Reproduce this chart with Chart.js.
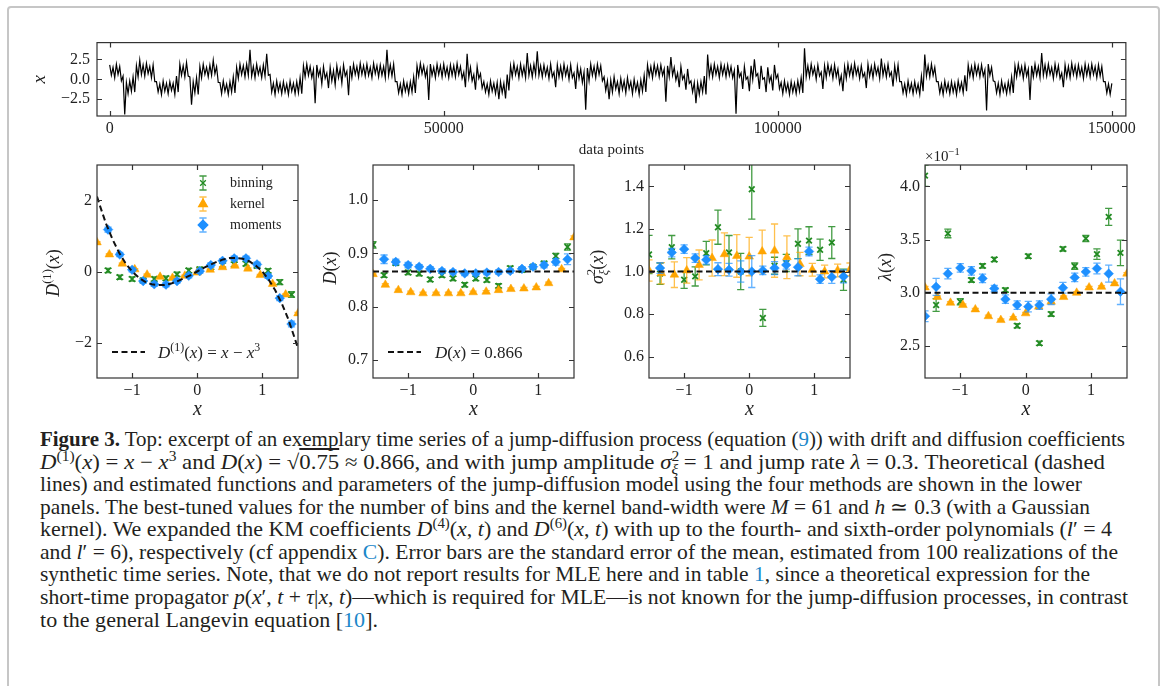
<!DOCTYPE html>
<html>
<head>
<meta charset="utf-8">
<script src="https://cdn.jsdelivr.net/npm/chart.js@4.4.1/dist/chart.umd.min.js"></script>
<style>
  body { margin: 0; width: 1165px; height: 686px; overflow: hidden; position: relative; background: #fff; font-family: "Liberation Serif", "Times New Roman", Times, serif; }
  #frame { position: absolute; left: 7px; top: 6px; width: 1153px; height: 720px; border: 2px solid #c6c6c6; border-radius: 4px; box-sizing: border-box; }
  canvas { position: absolute; }
  .cap { position: absolute; left: 40px; white-space: nowrap; font-size: 21px; line-height: 21px; color: #231f20; transform-origin: 0 0; }
  .cap a { color: #1b87c9; text-decoration: none; }
  .cap sup { font-size: 0.68em; vertical-align: baseline; position: relative; top: -0.55em; line-height: 0; }
  .cap sub { font-size: 0.68em; vertical-align: baseline; position: relative; top: 0.35em; line-height: 0; margin-left: -0.5em; }
</style>
</head>
<body>
<div id="frame"></div>

<div class="cap" style="top:429px"><b>Figure 3.</b> Top: excerpt of an exemplary time series of a jump-diffusion process (equation (<a>9</a>)) with drift and diffusion coefficients</div>
<div class="cap" style="top:452px"><i>D</i><sup>(1)</sup>(<i>x</i>) = <i>x</i> − <i>x</i><sup>3</sup> and <i>D</i>(<i>x</i>) = √<span style="text-decoration:overline">0.75</span> ≈ 0.866, and with jump amplitude <i>σ</i><sup>2</sup><sub><i>ξ</i></sub> = 1 and jump rate <i>λ</i> = 0.3. Theoretical (dashed</div>
<div class="cap" style="top:474px">lines) and estimated functions and parameters of the jump-diffusion model using the four methods are shown in the lower</div>
<div class="cap" style="top:497px">panels. The best-tuned values for the number of bins and the kernel band-width were <i>M</i> = 61 and <i>h</i> ≃ 0.3 (with a Gaussian</div>
<div class="cap" style="top:519px">kernel). We expanded the KM coefficients <i>D</i><sup>(4)</sup>(<i>x</i>, <i>t</i>) and <i>D</i><sup>(6)</sup>(<i>x</i>, <i>t</i>) with up to the fourth- and sixth-order polynomials (<i>l</i>′ = 4</div>
<div class="cap" style="top:542px">and <i>l</i>′ = 6), respectively (cf appendix <a>C</a>). Error bars are the standard error of the mean, estimated from 100 realizations of the</div>
<div class="cap" style="top:564px">synthetic time series. Note, that we do not report results for MLE here and in table <a>1</a>, since a theoretical expression for the</div>
<div class="cap" style="top:587px">short-time propagator <i>p</i>(<i>x</i>′, <i>t</i> + <i>τ</i>|<i>x</i>, <i>t</i>)—which is required for MLE—is not known for the jump-diffusion processes, in contrast</div>
<div class="cap" style="top:610px">to the general Langevin equation [<a>10</a>].</div>

<script>
// =============== DATA ===============

// top panel: the time series is far denser than the screen, so it is kept as
// the upper and lower edge of its trace in each block of 500 data points
const seriesLength = 150000;
const seriesUpper = [
  1.8, 1.5, 1.9, 1.6, 0.4, -0.4, -0.2, 0.3, 1.7, 2.4,
  1.8, 2.0, 1.6, 1.8, -0.3, -0.6, -0.2, -0.5, -0.3, -0.5,
  0.4, 1.9, 1.7, 2.1, 0.3, -0.3, 0.2, 1.6, 1.9, 1.5,
  1.8, 2.4, 1.6, -0.4, -0.2, -0.6, -0.3, 0.3, 1.5, 1.9,
  1.7, 1.9, 3.7, 1.6, 1.9, 1.5, 1.8, 3.2, 0.6, -0.5,
  -0.2, -0.5, -0.3, -0.6, -0.2, -0.5, -0.3, 0.2, 1.7, 1.9,
  1.6, 1.2, 1.8, 1.2, 1.6, 0.8, 1.5, 1.1, 1.7, 1.3,
  1.8, 1.0, 1.7, 1.9, 1.6, 2.0, 1.7, 1.9, 1.5, 2.0,
  1.7, 1.8, 1.6, 3.7, 1.8, 1.9, -0.3, -0.6, -0.2, -0.5,
  -0.3, 0.3, 1.7, 2.0, 1.7, 1.3, 1.9, 1.5, 1.9, 1.7,
  1.9, 1.5, 1.8, 1.7, 2.0, 1.6, 0.9, 3.2, 1.5, 0.6,
  1.6, 0.7, -0.3, -0.6, -0.2, -0.5, -0.4, -0.3, -0.5, 0.6,
  1.7, 2.0, 1.6, 1.9, 1.6, 3.3, 1.7, 1.9, 3.5, 1.7,
  1.8, 1.5, 1.9, 0.9, 1.8, 1.6, 1.9, 1.5, 1.8, 0.8,
  1.6, 1.3, 0.9, 1.4, 1.9, 1.6, 1.9, 1.7, 0.3, -0.2,
  -0.1, 0.3, -0.3, 0.1, -0.2, 0.2, -0.3, 0.0, -0.4, -0.1,
  0.5, 1.8, 1.6, 1.9, 1.7, 1.8, 1.3, 1.7, 2.8, 1.5,
  0.8, 1.6, 0.5, 1.3, -0.2, -0.4, -0.5, -0.3, 0.4, 3.1,
  1.7, 1.9, 1.6, 1.9, 1.7, 1.8, 1.6, 1.1, 1.8, 0.8,
  1.6, 0.3, 1.7, 2.5, 0.7, 1.7, 0.2, 1.5, 0.4, 1.8,
  0.6, -0.4, -0.2, -0.5, -0.3, -0.5, -0.2, 0.2, 3.9, 1.7,
  1.9, 1.5, 1.8, 0.9, 1.7, 1.9, 1.6, 1.8, 1.3, 0.5,
  1.6, 1.9, 1.7, 2.0, 1.5, 1.7, 0.8, 1.9, 1.6, 1.9,
  1.5, 2.6, 1.7, 1.9, 0.9, 1.7, 1.8, -0.3, -0.6, -0.2,
  -0.5, -0.3, -0.6, 0.4, 3.1, 1.7, 1.9, 1.5, -0.3, -0.6,
  -0.2, -0.5, -0.3, -0.5, -0.2, -0.4, 0.5, 1.8, 1.6, 1.9,
  1.7, 1.8, 1.2, 1.9, 1.5, -0.3, -0.5, -0.2, -0.6, -0.3,
  0.3, 1.7, 1.9, 1.6, 1.8, 1.3, 1.7, 1.9, 1.6, 3.3,
  1.8, 1.9, 1.5, 1.9, 1.7, 0.8, 1.8, 1.6, 2.0, 1.7,
  1.8, 1.5, 1.9, 1.7, 1.9, 1.6, 1.8, 1.6, -0.3, -0.6,
  -0.5,
];
const seriesLower = [
  0.5, 0.2, 0.6, -0.2, -4.4, -1.8, -1.5, -1.6, 0.3, 0.6,
  0.4, 0.7, 0.2, -0.3, -1.6, -1.9, -1.5, -1.8, -1.4, -1.9,
  -1.6, 0.5, 0.3, 0.4, -3.2, -1.7, -1.9, 0.2, 0.6, 0.3,
  0.5, 0.7, -0.4, -1.8, -1.5, -1.9, -1.6, -1.7, 0.1, 0.6,
  0.3, 0.5, 0.4, 0.2, 0.6, 0.2, 0.4, 0.5, -1.6, -1.9,
  -1.5, -1.8, -1.6, -1.9, -1.5, -1.8, -1.7, -1.8, 0.3, 0.5,
  0.2, -3.0, 0.4, -0.6, 0.1, -1.1, -0.2, -0.7, 0.2, -0.5,
  0.4, -2.0, 0.2, 0.6, 0.3, 0.6, 0.4, 0.5, 0.2, 0.7,
  0.3, 0.5, 0.2, 0.5, 0.4, -0.3, -1.7, -1.9, -1.5, -1.8,
  -1.6, -1.7, 0.4, 0.7, 0.3, -2.6, 0.5, 0.2, 0.6, 0.3,
  0.5, 0.2, 0.5, 0.3, 0.6, 0.1, -1.0, 0.2, -0.2, -1.3,
  0.1, -1.1, -1.6, -1.9, -1.5, -1.8, -2.5, -1.7, -2.4, -1.4,
  0.3, 0.6, 0.2, 0.5, 0.2, 0.5, 0.3, 0.6, 0.5, 0.3,
  0.5, 0.1, 0.3, -1.0, 0.3, 0.2, 0.5, 0.0, 0.2, -1.2,
  0.1, -0.4, -3.8, -0.2, 0.5, 0.2, 0.6, -0.2, -1.4, -2.5,
  -1.6, -1.2, -1.8, -1.3, -1.7, -1.2, -1.8, -1.4, -1.9, -1.5,
  -1.6, 0.4, 0.2, 0.6, 0.3, 0.5, -2.8, 0.3, 0.5, -0.1,
  -1.0, 0.0, -1.3, -0.5, -1.6, -3.0, -1.9, -1.6, -1.9, 0.4,
  0.3, 0.6, 0.2, 0.6, 0.3, 0.5, 0.2, -4.3, 0.3, -1.2,
  0.0, -1.5, 0.0, 0.4, -1.2, 0.0, -1.6, -0.3, -1.4, 0.1,
  -1.2, -1.8, -1.5, -1.9, -1.6, -1.8, -1.5, -1.7, 0.3, 0.3,
  0.6, 0.0, 0.4, -1.2, 0.2, 0.6, 0.1, 0.3, -0.5, -1.5,
  0.1, 0.5, 0.3, 0.6, 0.1, 0.3, -1.1, 0.4, 0.2, 0.6,
  0.1, 0.5, 0.3, 0.4, -0.9, 0.1, -0.3, -1.7, -1.9, -1.5,
  -1.8, -1.6, -1.9, -1.5, 0.4, 0.3, 0.5, -0.3, -1.7, -1.9,
  -1.5, -1.8, -1.6, -1.9, -1.4, -1.7, -1.5, 0.4, 0.2, 0.6,
  0.3, 0.4, -3.9, 0.5, -0.2, -1.7, -1.9, -1.5, -1.8, -1.6,
  -1.7, 0.3, 0.6, 0.1, 0.4, -2.6, 0.3, 0.5, 0.2, 0.5,
  0.4, 0.6, 0.1, 0.5, 0.1, -1.0, 0.3, 0.2, 0.6, 0.3,
  0.5, 0.1, 0.5, 0.3, 0.6, 0.2, 0.4, -0.3, -1.7, -1.9,
  -1.3,
];
const seriesXTicks = [0, 50000, 100000, 150000];
const seriesXLabels = ["0", "50000", "100000", "150000"];
const seriesYTicks = [-2.5, 0, 2.5];
const seriesYLabels = ["−2.5", "0.0", "2.5"];

// x positions of the estimates (binning / moments share the bin centres)
const xBins = [-1.54, -1.37, -1.19, -1.0, -0.83, -0.66, -0.48, -0.31, -0.13, 0.04, 0.21, 0.39, 0.57, 0.75, 0.92, 1.09, 1.27, 1.45];
const xKernel = [-1.54, -1.35, -1.15, -0.96, -0.77, -0.57, -0.38, -0.19, 0.0, 0.2, 0.39, 0.58, 0.78, 0.97, 1.16, 1.36, 1.55];
const xTicksLower = [-1, 0, 1];
const xLabelsLower = ["−1", "0", "1"];

// drift D1(x)
const driftBinning = [null, 0.03, -0.16, -0.21, -0.25, -0.21, -0.19, -0.08, 0.03, 0.06, 0.12, 0.18, 0.2, 0.22, 0.16, 0.02, -0.3, -0.65];
const driftBinningErr = [null, 0.06, 0.06, 0.06, 0.06, 0.06, 0.06, 0.06, 0.06, 0.06, 0.06, 0.06, 0.06, 0.06, 0.06, 0.06, 0.07, 0.08];
const driftKernel = [0.82, 0.48, 0.22, 0.06, -0.09, -0.15, -0.18, -0.12, -0.03, 0.05, 0.12, 0.16, 0.08, -0.1, -0.35, -0.65, -1.18];
const driftKernelErr = [0.02, 0.02, 0.02, 0.02, 0.02, 0.02, 0.02, 0.02, 0.02, 0.02, 0.02, 0.02, 0.02, 0.02, 0.02, 0.02, 0.03];
const driftMoments = [null, 1.18, 0.48, 0.05, -0.27, -0.36, -0.37, -0.27, -0.12, 0.01, 0.18, 0.3, 0.37, 0.37, 0.2, -0.13, -0.75, -1.48];
const driftMomentsErr = [null, 0.07, 0.06, 0.06, 0.06, 0.06, 0.06, 0.06, 0.06, 0.06, 0.06, 0.06, 0.06, 0.06, 0.06, 0.06, 0.07, 0.08];
const driftTheoryX = [-1.54, -1.5, -1.4, -1.3, -1.2, -1.1, -1.0, -0.9, -0.8, -0.7, -0.6, -0.5, -0.4, -0.3, -0.2, -0.1, 0.0,
  0.1, 0.2, 0.3, 0.4, 0.5, 0.6, 0.7, 0.8, 0.9, 1.0, 1.1, 1.2, 1.3, 1.4, 1.5, 1.55];
const driftTheory = [2.11, 1.88, 1.34, 0.9, 0.53, 0.23, 0.0, -0.17, -0.29, -0.36, -0.38, -0.38, -0.34, -0.27, -0.19, -0.1, 0.0,
  0.1, 0.19, 0.27, 0.34, 0.38, 0.38, 0.36, 0.29, 0.17, 0.0, -0.23, -0.53, -0.9, -1.34, -1.88, -2.17];

// diffusion D(x)
const diffBinning = [0.916, 0.859, 0.882, 0.864, 0.862, 0.851, 0.859, 0.853, 0.841, 0.853, 0.85, 0.839, 0.872, 0.869, 0.875, 0.881, 0.895, 0.912];
const diffBinningErr = [0.006, 0.004, 0.004, 0.004, 0.004, 0.004, 0.004, 0.004, 0.004, 0.004, 0.004, 0.004, 0.004, 0.004, 0.004, 0.004, 0.005, 0.006];
const diffKernel = [0.861, 0.841, 0.831, 0.827, 0.825, 0.825, 0.825, 0.825, 0.827, 0.828, 0.831, 0.833, 0.834, 0.836, 0.844, 0.87, 0.93];
const diffKernelErr = [0.002, 0.002, 0.002, 0.002, 0.002, 0.002, 0.002, 0.002, 0.002, 0.002, 0.002, 0.002, 0.002, 0.002, 0.002, 0.002, 0.003];
const diffMoments = [null, 0.889, 0.884, 0.878, 0.875, 0.871, 0.867, 0.865, 0.8625, 0.8625, 0.864, 0.865, 0.867, 0.871, 0.875, 0.878, 0.884, 0.889];
const diffMomentsErr = [null, 0.008, 0.005, 0.005, 0.004, 0.004, 0.004, 0.004, 0.004, 0.004, 0.004, 0.004, 0.004, 0.004, 0.004, 0.005, 0.006, 0.01];
const diffTheory = 0.866;

// jump amplitude sigma_xi^2(x)
const ampBinning = [1.08, 0.99, 1.114, 0.961, 0.977, 1.086, 1.208, 1.089, 1.0, 1.386, 0.782, 1.027, 1.04, 1.13, 1.145, 1.102, 1.136, 0.961];
const ampBinningErr = [0.09, 0.05, 0.055, 0.04, 0.045, 0.055, 0.08, 0.08, 0.085, 0.14, 0.04, 0.04, 0.04, 0.07, 0.065, 0.05, 0.075, 0.05];
const ampKernel = [1.005, 0.992, 0.985, 1.005, 1.031, 1.063, 1.081, 1.073, 1.07, 1.094, 1.098, 1.067, 1.035, 1.008, 1.0, 1.005, 1.01];
const ampKernelErr = [0.05, 0.05, 0.06, 0.06, 0.07, 0.085, 0.1, 0.1, 0.09, 0.1, 0.125, 0.1, 0.055, 0.03, 0.03, 0.03, 0.03];
const ampMoments = [null, 1.016, 1.089, 1.105, 1.063, 1.055, 1.011, 1.008, 1.0, 1.0, 1.005, 1.016, 1.031, 1.02, 1.094, 0.964, 0.974, 0.977];
const ampMomentsErr = [null, 0.025, 0.02, 0.02, 0.02, 0.02, 0.03, 0.03, 0.05, 0.075, 0.02, 0.03, 0.02, 0.04, 0.02, 0.02, 0.03, 0.03];
const ampTheory = 1.0;

// jump rate lambda(x), in units of 1e-1
const rateBinning = [4.1, 2.885, 3.557, 2.916, 3.119, 3.253, 3.313, 3.025, 2.69, 3.344, 2.526, 2.8, 3.412, 3.25, 3.51, 3.363, 3.713, 3.375];
const rateBinningErr = [0.1, 0.06, 0.04, 0.03, 0.02, 0.02, 0.02, 0.02, 0.02, 0.02, 0.02, 0.02, 0.02, 0.03, 0.03, 0.05, 0.08, 0.12];
const rateKernel = [3.05, 2.96, 2.906, 2.885, 2.844, 2.78, 2.744, 2.766, 2.807, 2.87, 2.916, 2.96, 3.0, 3.05, 3.056, 3.088, 3.18];
const rateKernelErr = [0.01, 0.01, 0.01, 0.01, 0.01, 0.01, 0.01, 0.01, 0.01, 0.01, 0.01, 0.01, 0.01, 0.01, 0.01, 0.01, 0.01];
const rateMoments = [2.78, 3.056, 3.18, 3.234, 3.206, 3.135, 3.04, 2.94, 2.885, 2.87, 2.885, 2.94, 3.047, 3.144, 3.197, 3.228, 3.18, 3.01];
const rateMomentsErr = [0.05, 0.08, 0.05, 0.04, 0.04, 0.04, 0.03, 0.04, 0.04, 0.05, 0.04, 0.05, 0.05, 0.04, 0.04, 0.05, 0.08, 0.12];
const rateTheory = 3.0;


// =============== STYLE ===============

const FONT = "'Liberation Serif', 'Times New Roman', Times, serif";
const INK = "#222";
const GREEN = "#228B22";
const ORANGE = "#FFA500";
const BLUE = "#1E90FF";


// =============== HELPERS ===============

function runFont(r, size) {
  const sz = r.s ? size * 0.7 : size;
  return (r.i ? "italic " : "") + sz + "px " + FONT;
}

function runsWidth(ctx, runs, size) {
  let w = 0;
  runs.forEach((r) => {
    ctx.font = runFont(r, size);
    if (!r.k) w += ctx.measureText(r.t).width;
  });
  return w;
}

// draw a line of mixed italic / roman / super- and subscript text
function drawRuns(ctx, runs, x, y, size, align) {
  let cx = align === "center" ? x - runsWidth(ctx, runs, size) / 2 : x;
  ctx.textAlign = "left";
  ctx.textBaseline = "alphabetic";
  runs.forEach((r) => {
    ctx.font = runFont(r, size);
    const dy = r.s === 1 ? -size * 0.42 : r.s === -1 ? size * 0.28 : 0;
    ctx.fillText(r.t, cx, y + dy);
    if (!r.k) cx += ctx.measureText(r.t).width;
  });
}

function drawYLabel(ctx, runs, x, y, size) {
  ctx.save();
  ctx.translate(x, y);
  ctx.rotate(-Math.PI / 2);
  drawRuns(ctx, runs, 0, size * 0.33, size, "center");
  ctx.restore();
}

function points(xs, ys, errs) {
  const out = [];
  xs.forEach((x, i) => {
    if (ys[i] == null) return;
    out.push({ x, y: ys[i], e: errs ? errs[i] : null });
  });
  return out;
}

// the trace: top of each block, then bottom of the same block
function tracePoints() {
  const block = seriesLength / (seriesUpper.length - 1);
  const out = [];
  seriesUpper.forEach((u, i) => {
    out.push({ x: i * block, y: u });
    if (i < seriesUpper.length - 1) out.push({ x: (i + 0.5) * block, y: seriesLower[i] });
  });
  return out;
}

// error bars (drawn under each dataset), box and inward ticks
const framePlugin = {
  id: "frameBox",
  beforeDatasetDraw(chart, args) {
    const ds = chart.data.datasets[args.index];
    if (!ds.errColor) return;
    const ctx = chart.ctx;
    const a = chart.chartArea;
    const ys = chart.scales.y;
    ctx.save();
    ctx.beginPath();
    ctx.rect(a.left, a.top, a.right - a.left, a.bottom - a.top);
    ctx.clip();
    ctx.strokeStyle = ds.errColor;
    ctx.lineWidth = 1.3;
    args.meta.data.forEach((pt, i) => {
      const d = ds.data[i];
      if (d.e == null) return;
      const y1 = ys.getPixelForValue(d.y + d.e);
      const y2 = ys.getPixelForValue(d.y - d.e);
      const cap = 3.6;
      ctx.beginPath();
      ctx.moveTo(pt.x, y1);
      ctx.lineTo(pt.x, y2);
      ctx.moveTo(pt.x - cap, y1);
      ctx.lineTo(pt.x + cap, y1);
      ctx.moveTo(pt.x - cap, y2);
      ctx.lineTo(pt.x + cap, y2);
      ctx.stroke();
    });
    ctx.restore();
  },
  afterDraw(chart) {
    const ctx = chart.ctx;
    const a = chart.chartArea;
    const xs = chart.scales.x;
    const ys = chart.scales.y;
    const tl = 5;
    ctx.save();
    ctx.strokeStyle = "#333";
    ctx.lineWidth = 1.2;
    ctx.beginPath();
    xs.ticks.forEach((t) => {
      const px = Math.round(xs.getPixelForValue(t.value)) + 0.5;
      ctx.moveTo(px, a.bottom);
      ctx.lineTo(px, a.bottom - tl);
      ctx.moveTo(px, a.top);
      ctx.lineTo(px, a.top + tl);
    });
    ys.ticks.forEach((t) => {
      const py = Math.round(ys.getPixelForValue(t.value)) + 0.5;
      ctx.moveTo(a.left, py);
      ctx.lineTo(a.left + tl, py);
      ctx.moveTo(a.right, py);
      ctx.lineTo(a.right - tl, py);
    });
    ctx.stroke();
    ctx.strokeRect(a.left, a.top, a.right - a.left, a.bottom - a.top);
    ctx.fillStyle = INK;
    ctx.strokeStyle = INK;
    if (chart.canvas._decorate) chart.canvas._decorate(ctx, a);
    ctx.restore();
  },
};

function makePanel(box, m, cfg) {
  const cv = document.createElement("canvas");
  cv.width = box.r - box.l + m.l + m.r;
  cv.height = box.b - box.t + m.t + m.b;
  cv.style.left = box.l - m.l + "px";
  cv.style.top = box.t - m.t + "px";
  cv._decorate = cfg.decorate;
  document.body.appendChild(cv);

  const tickFont = { family: FONT, size: 16 };
  return new Chart(cv, {
    type: "scatter",
    data: { datasets: cfg.datasets },
    options: {
      responsive: false,
      animation: false,
      devicePixelRatio: 1,
      layout: { padding: { left: 0, top: m.t, right: m.r, bottom: 0 } },
      plugins: { legend: { display: false }, tooltip: { enabled: false } },
      scales: {
        x: {
          type: "linear",
          min: cfg.xmin,
          max: cfg.xmax,
          afterFit: (s) => { s.height = m.b; },
          afterBuildTicks: (s) => { s.ticks = cfg.xTicks.map((v) => ({ value: v })); },
          grid: { display: false, drawTicks: false },
          border: { display: false },
          ticks: { padding: cfg.xPad, autoSkip: false, maxRotation: 0, color: INK, font: tickFont,
            callback: (v, i) => cfg.xLabels[i] },
        },
        y: {
          type: "linear",
          min: cfg.ymin,
          max: cfg.ymax,
          afterFit: (s) => { s.width = m.l; },
          afterBuildTicks: (s) => { s.ticks = cfg.yTicks.map((v) => ({ value: v })); },
          grid: { display: false, drawTicks: false },
          border: { display: false },
          ticks: { padding: cfg.yPad, autoSkip: false, color: INK, font: tickFont,
            callback: (v, i) => cfg.yLabels[i] },
        },
      },
    },
    plugins: [framePlugin],
  });
}

function binningSet(ys, errs) {
  return {
    data: points(xBins, ys, errs), order: 3, clip: 0,
    pointStyle: "crossRot", pointRadius: 4, borderWidth: 1.8,
    borderColor: GREEN, backgroundColor: GREEN, errColor: "rgba(34,139,34,0.85)",
  };
}

function kernelSet(ys, errs) {
  return {
    data: points(xKernel, ys, errs), order: 2, clip: 0,
    pointStyle: "triangle", pointRadius: 5, borderWidth: 0.5,
    borderColor: ORANGE, backgroundColor: ORANGE, errColor: "rgba(255,165,0,0.7)",
  };
}

function momentsSet(ys, errs) {
  return {
    data: points(xBins, ys, errs), order: 1, clip: 0,
    pointStyle: "rectRot", pointRadius: 4.8, borderWidth: 0.5,
    borderColor: BLUE, backgroundColor: BLUE, errColor: "rgba(30,144,255,0.7)",
  };
}

function theorySet(xs, ys) {
  return {
    data: points(xs, ys), order: 0, clip: 0, showLine: true,
    pointRadius: 0, borderColor: "#111", borderWidth: 2, borderDash: [6, 3.5],
  };
}

function levelSet(v) {
  return theorySet([-1.54, 1.55], [v, v]);
}

function dashedSample(ctx, x1, x2, y) {
  ctx.save();
  ctx.strokeStyle = "#111";
  ctx.lineWidth = 2;
  ctx.setLineDash([6, 3.5]);
  ctx.beginPath();
  ctx.moveTo(x1, y);
  ctx.lineTo(x2, y);
  ctx.stroke();
  ctx.restore();
}

function xLabel(ctx, a) {
  drawRuns(ctx, [{ t: "x", i: 1 }], (a.left + a.right) / 2, a.bottom + 37, 20, "center");
}


// =============== TOP: TIME SERIES ===============

makePanel({ l: 97, t: 34, r: 1127, b: 116 }, { l: 65, t: 8, r: 12, b: 48 }, {
  xmin: -1900, xmax: 152100, ymin: -4.6, ymax: 4.6,
  xTicks: seriesXTicks, xLabels: seriesXLabels, yTicks: seriesYTicks, yLabels: seriesYLabels,
  xPad: 3, yPad: 7,
  datasets: [{
    data: tracePoints(),
    showLine: true, pointRadius: 0, borderColor: "#000", borderWidth: 1.2, clip: 0,
  }],
  decorate(ctx, a) {
    ctx.font = "15px " + FONT;
    ctx.textAlign = "center";
    ctx.textBaseline = "middle";
    ctx.fillText("data points", (a.left + a.right) / 2, a.bottom + 34);
    drawYLabel(ctx, [{ t: "x", i: 1 }], a.left - 58, (a.top + a.bottom) / 2, 19);
  },
});


// =============== LOWER PANELS ===============

const lowerMargin = { l: 62, t: 26, r: 10, b: 48 };

makePanel({ l: 97, t: 165, r: 298, b: 378 }, lowerMargin, {
  xmin: -1.54, xmax: 1.55, ymin: -3, ymax: 3,
  xTicks: xTicksLower, xLabels: xLabelsLower, yTicks: [-2, 0, 2], yLabels: ["−2", "0", "2"],
  xPad: 3, yPad: 5,
  datasets: [
    theorySet(driftTheoryX, driftTheory),
    momentsSet(driftMoments, driftMomentsErr),
    kernelSet(driftKernel, driftKernelErr),
    binningSet(driftBinning, driftBinningErr),
  ],
  decorate(ctx, a) {
    xLabel(ctx, a);
    drawYLabel(ctx, [{ t: "D", i: 1 }, { t: "(1)", s: 1 }, { t: "(" }, { t: "x", i: 1 }, { t: ")" }],
      a.left - 44, a.top + 108, 18);

    // legend of the estimators
    const lx = a.left + 106;
    const rows = [
      ["binning", GREEN, "crossRot", 4, 1.8, "rgba(34,139,34,0.85)"],
      ["kernel", ORANGE, "triangle", 5, 0.5, "rgba(255,165,0,0.7)"],
      ["moments", BLUE, "rectRot", 4.8, 0.5, "rgba(30,144,255,0.7)"],
    ];
    rows.forEach((r, i) => {
      const ly = a.top + 18 + i * 21;
      ctx.strokeStyle = r[5];
      ctx.lineWidth = 1.3;
      ctx.beginPath();
      ctx.moveTo(lx, ly - 7); ctx.lineTo(lx, ly + 7);
      ctx.moveTo(lx - 3.6, ly - 7); ctx.lineTo(lx + 3.6, ly - 7);
      ctx.moveTo(lx - 3.6, ly + 7); ctx.lineTo(lx + 3.6, ly + 7);
      ctx.stroke();
      ctx.fillStyle = r[1];
      ctx.strokeStyle = r[1];
      Chart.helpers.drawPoint(ctx, { pointStyle: r[2], radius: r[3], borderWidth: r[4], rotation: 0 }, lx, ly);
      ctx.fillStyle = INK;
      ctx.font = "14px " + FONT;
      ctx.textAlign = "left";
      ctx.textBaseline = "middle";
      ctx.fillText(r[0], a.left + 133, ly);
    });

    dashedSample(ctx, a.left + 15, a.left + 48, a.top + 187);
    ctx.fillStyle = INK;
    drawRuns(ctx, [{ t: "D", i: 1 }, { t: "(1)", s: 1 }, { t: "(" }, { t: "x", i: 1 }, { t: ") = " },
      { t: "x", i: 1 }, { t: " − " }, { t: "x", i: 1 }, { t: "3", s: 1 }], a.left + 61, a.top + 193, 17);
  },
});

makePanel({ l: 373, t: 165, r: 574, b: 378 }, lowerMargin, {
  xmin: -1.54, xmax: 1.55, ymin: 0.666, ymax: 1.066,
  xTicks: xTicksLower, xLabels: xLabelsLower, yTicks: [0.7, 0.8, 0.9, 1.0], yLabels: ["0.7", "0.8", "0.9", "1.0"],
  xPad: 3, yPad: 5,
  datasets: [
    levelSet(diffTheory),
    momentsSet(diffMoments, diffMomentsErr),
    kernelSet(diffKernel, diffKernelErr),
    binningSet(diffBinning, diffBinningErr),
  ],
  decorate(ctx, a) {
    xLabel(ctx, a);
    drawYLabel(ctx, [{ t: "D", i: 1 }, { t: "(" }, { t: "x", i: 1 }, { t: ")" }], a.left - 43, a.top + 103, 18);
    dashedSample(ctx, a.left + 15, a.left + 48, a.top + 187);
    ctx.fillStyle = INK;
    drawRuns(ctx, [{ t: "D", i: 1 }, { t: "(" }, { t: "x", i: 1 }, { t: ") = 0.866" }], a.left + 62, a.top + 193, 17);
  },
});

makePanel({ l: 649, t: 165, r: 850, b: 378 }, lowerMargin, {
  xmin: -1.54, xmax: 1.55, ymin: 0.5, ymax: 1.5,
  xTicks: xTicksLower, xLabels: xLabelsLower,
  yTicks: [0.6, 0.8, 1.0, 1.2, 1.4], yLabels: ["0.6", "0.8", "1.0", "1.2", "1.4"],
  xPad: 3, yPad: 5,
  datasets: [
    levelSet(ampTheory),
    momentsSet(ampMoments, ampMomentsErr),
    kernelSet(ampKernel, ampKernelErr),
    binningSet(ampBinning, ampBinningErr),
  ],
  decorate(ctx, a) {
    xLabel(ctx, a);
    drawYLabel(ctx, [{ t: "σ", i: 1 }, { t: "2", s: 1, k: 1 }, { t: "ξ", i: 1, s: -1 }, { t: "(" }, { t: "x", i: 1 }, { t: ")" }],
      a.left - 52, a.top + 102, 18);
  },
});

makePanel({ l: 925, t: 165, r: 1127, b: 378 }, lowerMargin, {
  xmin: -1.54, xmax: 1.55, ymin: 2.2, ymax: 4.2,
  xTicks: xTicksLower, xLabels: xLabelsLower,
  yTicks: [2.5, 3.0, 3.5, 4.0], yLabels: ["2.5", "3.0", "3.5", "4.0"],
  xPad: 3, yPad: 5,
  datasets: [
    levelSet(rateTheory),
    momentsSet(rateMoments, rateMomentsErr),
    kernelSet(rateKernel, rateKernelErr),
    binningSet(rateBinning, rateBinningErr),
  ],
  decorate(ctx, a) {
    xLabel(ctx, a);
    drawYLabel(ctx, [{ t: "λ", i: 1 }, { t: "(" }, { t: "x", i: 1 }, { t: ")" }], a.left - 40, a.top + 102, 18);
    drawRuns(ctx, [{ t: "×10" }, { t: "−1", s: 1 }], a.left, a.top - 4, 15);
  },
});


// =============== CAPTION FIT ===============

const captionEnds = [1125, 1105, 1082, 1090, 1112, 1118, 1090, 1128, 378];
document.querySelectorAll(".cap").forEach((el, i) => {
  const w = el.getBoundingClientRect().width;
  el.style.transform = "scaleX(" + (captionEnds[i] - 40) / w + ")";
});
</script>
</body>
</html>
